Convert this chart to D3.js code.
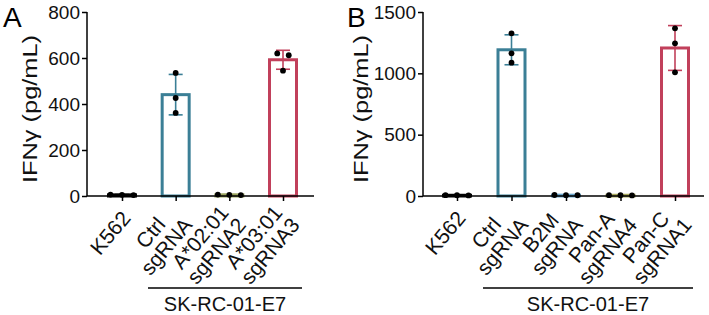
<!DOCTYPE html>
<html>
<head>
<meta charset="utf-8">
<script src="https://cdn.jsdelivr.net/npm/d3@7"></script>
<style>
  html, body { margin: 0; padding: 0; background: #fff; }
  svg { display: block; font-family: "Liberation Sans", Arial, sans-serif; }
</style>
</head>
<body>
<svg id="chart" width="709" height="315"></svg>
<script>
// ---------- data ----------
const categoriesA = [["K562"], ["Ctrl", "sgRNA"], ["A*02:01", "sgRNA2"], ["A*03:01", "sgRNA3"]];
const valuesA = [
  [4, 5, 6],
  [535, 426, 361],
  [4, 5, 6],
  [620, 612, 545]
];
const colorsA = ["#000000", "#3b7f96", "#9aa35e", "#c1405b"];
const yTicksA = [0, 200, 400, 600, 800];

const categoriesB = [["K562"], ["Ctrl", "sgRNA"], ["B2M", "sgRNA"], ["Pan-A", "sgRNA4"], ["Pan-C", "sgRNA1"]];
const valuesB = [
  [5, 6, 7],
  [1326, 1163, 1087],
  [6, 7, 8],
  [5, 6, 7],
  [1367, 1245, 1008]
];
const colorsB = ["#000000", "#3b7f96", "#6aa6cc", "#a9a85e", "#c1405b"];
const yTicksB = [0, 500, 1000, 1500];

const yLabel = "IFNγ (pg/mL)";
const groupLabel = "SK-RC-01-E7";

// ---------- drawing ----------
const svg = d3.select("#chart");
const FONT = "Liberation Sans, Arial, sans-serif";

function panel(cfg) {
  const g = svg.append("g");
  const y = d3.scaleLinear().domain([0, cfg.yMax]).range([196, 12]);
  const x = d3.scalePoint().domain(d3.range(cfg.cats.length)).range([cfg.x0, cfg.x1]);
  const barW = 27, capW = 14, r = 2.9;

  // bars + error bars (mean ± SD)
  cfg.vals.forEach((vals, i) => {
    const m = d3.mean(vals), sd = d3.deviation(vals);
    const cx = x(i), col = cfg.colors[i];
    const top = y(m);
    g.append("rect")
      .attr("x", cx - barW / 2).attr("y", top)
      .attr("width", barW).attr("height", Math.max(0, y(0) - top))
      .attr("fill", "#fff").attr("stroke", col).attr("stroke-width", 3);
    const hi = y(m + sd), lo = y(Math.max(0, m - sd));
    const e = g.append("g").attr("stroke", col).attr("stroke-width", 1.6);
    e.append("line").attr("x1", cx).attr("x2", cx).attr("y1", hi).attr("y2", lo);
    e.append("line").attr("x1", cx - capW / 2).attr("x2", cx + capW / 2).attr("y1", hi).attr("y2", hi);
    e.append("line").attr("x1", cx - capW / 2).attr("x2", cx + capW / 2).attr("y1", lo).attr("y2", lo);
  });

  // y axis
  const yAxis = d3.axisLeft(y).tickValues(cfg.yTicks).tickFormat(d3.format("d"))
    .tickSize(5).tickPadding(2).tickSizeOuter(0);
  const ya = g.append("g").attr("transform", `translate(${cfg.axisX},0)`).call(yAxis);
  ya.select(".domain").attr("stroke-width", 1.5).attr("d", `M0,${y(cfg.yMax)}V${y(0)}`);
  ya.selectAll(".tick line").attr("stroke-width", 1.5);
  ya.selectAll(".tick text").attr("font-size", 19).attr("fill", "#111").attr("font-family", FONT);

  // x axis
  g.append("line").attr("x1", cfg.axisX).attr("x2", cfg.axisEnd).attr("y1", y(0)).attr("y2", y(0))
    .attr("stroke", "#000").attr("stroke-width", 1.5);
  const xAxis = d3.axisBottom(x).tickSize(5).tickFormat("");
  const xa = g.append("g").attr("transform", `translate(0,${y(0)})`).call(xAxis);
  xa.select(".domain").remove();
  xa.selectAll(".tick line").attr("stroke-width", 1.5);

  // dots (near-equal values spread side by side)
  cfg.vals.forEach((vals, i) => {
    const cx = x(i);
    const pts = vals.map(v => ({ v, py: y(v) })).sort((a, b) => a.py - b.py);
    const groups = [];
    pts.forEach(p => {
      const last = groups[groups.length - 1];
      if (last && Math.abs(p.py - last[0].py) < 6) last.push(p); else groups.push([p]);
    });
    groups.forEach(grp => {
      grp.forEach((p, k) => {
        const off = (k - (grp.length - 1) / 2) * 11.5;
        g.append("circle").attr("cx", cx + off).attr("cy", p.py).attr("r", r).attr("fill", "#000");
      });
    });
  });

  // category labels: rotated, lines centred within block, block right-aligned at tick
  const fs = 21, lh = 21;
  cfg.cats.forEach((lines, i) => {
    const t = g.append("g")
      .attr("transform", `translate(${x(i) + 4},${y(0) + 18}) rotate(-50)`);
    const texts = lines.map((ln, k) => t.append("text")
      .attr("font-size", fs).attr("fill", "#111").attr("text-anchor", "middle")
      .attr("y", (k - (lines.length - 1) / 2) * lh + 0.35 * fs)
      .text(ln));
    const W = d3.max(texts, tx => tx.node().getComputedTextLength());
    texts.forEach(tx => tx.attr("x", -W / 2));
  });

  // group bracket
  g.append("line").attr("x1", cfg.brX0).attr("x2", cfg.brX1).attr("y1", 288).attr("y2", 288)
    .attr("stroke", "#000").attr("stroke-width", 1.3);
  g.append("text").attr("x", (cfg.brX0 + cfg.brX1) / 2).attr("y", 311)
    .attr("text-anchor", "middle").attr("font-size", 20).attr("fill", "#111").text(groupLabel);

  // y label
  g.append("text").attr("transform", `translate(${cfg.labelX},109) rotate(-90)`)
    .attr("text-anchor", "middle").attr("font-size", 20).attr("fill", "#111")
    .attr("textLength", 148).attr("lengthAdjust", "spacingAndGlyphs")
    .text(yLabel);

  // panel letter
  g.append("text").attr("x", cfg.letterX).attr("y", 27).attr("font-size", 28).attr("fill", "#000").text(cfg.letter);
}

panel({ cats: categoriesA, vals: valuesA, colors: colorsA, yTicks: yTicksA, yMax: 800,
  axisX: 87, axisEnd: 314, x0: 122, x1: 283, brX0: 148, brX1: 302, labelX: 37, letter: "A", letterX: 3 });
panel({ cats: categoriesB, vals: valuesB, colors: colorsB, yTicks: yTicksB, yMax: 1500,
  axisX: 423, axisEnd: 704, x0: 457, x1: 675, brX0: 483, brX1: 693, labelX: 368, letter: "B", letterX: 347 });
</script>
</body>
</html>
